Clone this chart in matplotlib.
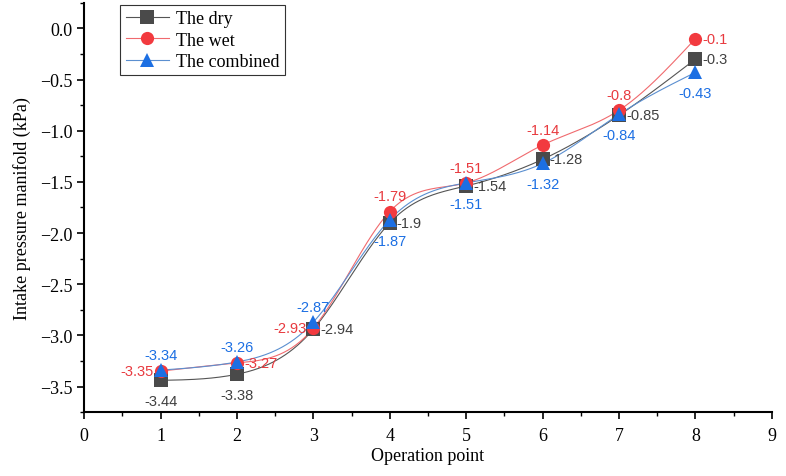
import matplotlib
matplotlib.use("Agg")
import matplotlib.pyplot as plt
import numpy as np
from matplotlib.ticker import MultipleLocator, FuncFormatter

# data
points = [1, 2, 3, 4, 5, 6, 7, 8]
dry = [-3.44, -3.38, -2.94, -1.90, -1.54, -1.28, -0.85, -0.30]
wet = [-3.35, -3.27, -2.93, -1.79, -1.51, -1.14, -0.80, -0.10]
combined = [-3.34, -3.26, -2.87, -1.87, -1.51, -1.32, -0.84, -0.43]

dry_labels = ["-3.44", "-3.38", "-2.94", "-1.9", "-1.54", "-1.28", "-0.85", "-0.3"]
wet_labels = ["-3.35", "-3.27", "-2.93", "-1.79", "-1.51", "-1.14", "-0.8", "-0.1"]
comb_labels = ["-3.34", "-3.26", "-2.87", "-1.87", "-1.51", "-1.32", "-0.84", "-0.43"]

# where each value label sits relative to its marker
dry_pos = ["below", "below", "right", "right", "right", "right", "right", "right"]
wet_pos = ["left", "right", "left", "above", "above", "above", "above", "right"]
comb_pos = ["above", "above", "above", "below", "below", "below", "below", "below"]


def natural_spline(x, y, n=400):
    """Natural cubic spline through the data, used only to draw a smooth line."""
    x = np.asarray(x, float)
    y = np.asarray(y, float)
    k = len(x)
    h = np.diff(x)
    a = np.zeros((k, k))
    b = np.zeros(k)
    a[0, 0] = a[-1, -1] = 1.0
    for i in range(1, k - 1):
        a[i, i - 1] = h[i - 1]
        a[i, i] = 2 * (h[i - 1] + h[i])
        a[i, i + 1] = h[i]
        b[i] = 6 * ((y[i + 1] - y[i]) / h[i] - (y[i] - y[i - 1]) / h[i - 1])
    m = np.linalg.solve(a, b)
    xs = np.linspace(x[0], x[-1], n)
    idx = np.clip(np.searchsorted(x, xs) - 1, 0, k - 2)
    x0, x1 = x[idx], x[idx + 1]
    hh = x1 - x0
    t0, t1 = x1 - xs, xs - x0
    ys = (m[idx] * t0 ** 3 + m[idx + 1] * t1 ** 3) / (6 * hh) \
        + (y[idx] / hh - m[idx] * hh / 6) * t0 \
        + (y[idx + 1] / hh - m[idx + 1] * hh / 6) * t1
    return xs, ys


plt.rcParams["font.family"] = ["Liberation Serif", "DejaVu Serif"]

fig = plt.figure(figsize=(7.86, 4.77), dpi=100)
ax = fig.add_axes([0.107, 0.134, 0.875, 0.858])

series = [
    (dry, dry_labels, dry_pos, "The dry", "s", "#4a4a4a", "#555555", "#404040"),
    (wet, wet_labels, wet_pos, "The wet", "o", "#f23a3f", "#f06a6e", "#e83a3f"),
    (combined, comb_labels, comb_pos, "The combined", "^", "#1c6fe3", "#5b8fd0", "#1c6fe3"),
]

offsets = {"below": (0, -10, "center", "top"),
           "above": (0, 6, "center", "bottom"),
           "right": (5, 0, "left", "center"),
           "left": (-5, 0, "right", "center")}

for vals, labels, pos, name, marker, mcolor, lcolor, tcolor in series:
    xs, ys = natural_spline(points, vals)
    ax.plot(xs, ys, color=lcolor, lw=0.8, zorder=2)
    ax.plot(points, vals, linestyle="none", marker=marker, markersize=9.5,
            color=mcolor, markeredgewidth=0, zorder=3)
    for x, y, lab, p in zip(points, vals, labels, pos):
        dx, dy, ha, va = offsets[p]
        ax.annotate(lab, xy=(x, y), xytext=(dx, dy), textcoords="offset points",
                    ha=ha, va=va, fontsize=10.5, color=tcolor,
                    family=["Liberation Sans", "DejaVu Sans"], zorder=4)
    # legend proxy: line with marker
    ax.plot([], [], color=lcolor, lw=0.8, marker=marker, markersize=9.5,
            markerfacecolor=mcolor, markeredgewidth=0, label=name)

ax.set_xlim(0, 9)
ax.set_ylim(-3.75, 0.25)
ax.xaxis.set_major_locator(MultipleLocator(1))
ax.xaxis.set_minor_locator(MultipleLocator(0.5))
ax.yaxis.set_major_locator(MultipleLocator(0.5))
ax.yaxis.set_minor_locator(MultipleLocator(0.25))
ax.yaxis.set_major_formatter(FuncFormatter(lambda v, _: f"{v:.1f}".replace("-", "\u2212")))
ax.spines["top"].set_visible(False)
ax.spines["right"].set_visible(False)
ax.spines["left"].set_linewidth(1.5)
ax.spines["bottom"].set_linewidth(1.5)
ax.tick_params(which="major", length=5, width=1.2, labelsize=13)
ax.tick_params(axis="x", which="major", pad=6)
ax.tick_params(which="minor", length=3, width=1.0)

ax.set_xlabel("Operation point", fontsize=13, labelpad=2)
ax.set_ylabel("Intake pressure manifold (kPa)", fontsize=13, labelpad=6)

ax.legend(loc="upper left", bbox_to_anchor=(0.05, 1.0), fontsize=13, frameon=True,
          fancybox=False, edgecolor="#333333", framealpha=1, handlelength=2.4,
          borderpad=0.3, labelspacing=0.25, handletextpad=0.4, borderaxespad=0.1)
ax.get_legend().get_frame().set_linewidth(0.8)

fig.savefig("out.png", dpi=100)
